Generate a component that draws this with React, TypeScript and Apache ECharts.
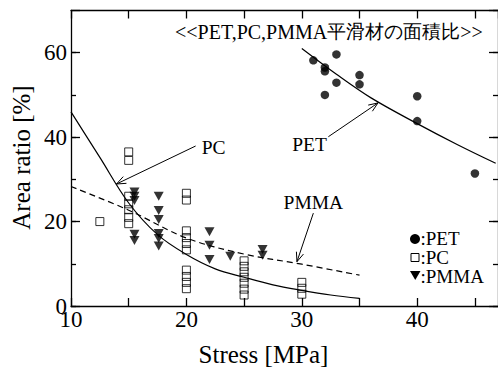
import { useEffect, useRef } from "react";
import * as echarts from "echarts";

const FONT = "Liberation Serif, Times New Roman, Times, DejaVu Serif, serif";

// Area ratio [%] measured at each stress [MPa]
const petPoints: number[][] = [
  [31, 58.2], [33, 59.6], [32, 56.5], [32, 55.6], [33, 52.9], [32, 50.0],
  [35, 54.7], [35, 52.5], [40, 49.7], [40, 43.8], [45, 31.4],
];
const pcPoints: number[][] = [
  [12.5, 20.0],
  [15, 36.5], [15, 34.5], [15, 26.0], [15, 24.2], [15, 22.8], [15, 21.0], [15, 19.5],
  [20, 26.7], [20, 25.1], [20, 17.8], [20, 16.2], [20, 14.8], [20, 13.3],
  [20, 8.5], [20, 7.0], [20, 5.6], [20, 4.1],
  [25, 10.7], [25, 9.4], [25, 8.1], [25, 6.8], [25, 5.4], [25, 4.0], [25, 2.6],
  [30, 5.6], [30, 4.2], [30, 2.8],
];
const pmmaPoints: number[][] = [
  [15.5, 27.0], [15.5, 26.0], [15.5, 25.0], [15.5, 17.0], [15.5, 15.5],
  [17.6, 26.0], [17.6, 22.6], [17.6, 20.5], [17.6, 17.2], [17.6, 16.0], [17.6, 14.2],
  [22, 17.6], [22, 14.4], [22, 11.0],
  [23.8, 11.8],
  [26.6, 13.4], [26.6, 12.0],
];

// Trend curves
const petFit: number[][] = [
  [30, 61], [33, 54.9], [36, 49.3], [40, 43.2], [43.5, 38.2], [46.8, 33.8],
];
const pcFit: number[][] = [
  [10, 46], [12.5, 35.2], [15, 24.4], [17.5, 16.9], [20, 12.2], [22.5, 8.8], [25, 6.8],
  [27.5, 5.0], [30, 3.7], [32.5, 2.6], [35, 1.8],
];
const pmmaFit: number[][] = [
  [10, 28.3], [15, 22.7], [20, 16.1], [25, 12.3], [30, 9.9], [35, 7.3],
];

const xTickLabels = [10, 20, 30, 40];
const yTickLabels = [0, 20, 40, 60];

const titleLatin = "<<PET,PC,PMMA";
const titleCjk = "平滑材の面積比";
const titleEnd = ">>";
const xTitle = "Stress [MPa]";
const yTitle = "Area ratio [%]";
const legendLabels = [":PET", ":PC", ":PMMA"];

// Callouts: label, arrow start and arrow tip in data space
const callouts = [
  { name: "PC", from: [20.8, 37.9], to: [13.94, 28.9], dx: 6, dy: 1.5, align: "left" },
  { name: "PET", from: [32.3, 40.1], to: [36.6, 48.1], dx: -1.5, dy: 7.5, align: "right" },
  { name: "PMMA", from: [31.0, 22.0], to: [29.58, 10.5], dx: 0, dy: -10.5, align: "center" },
];

const BLACK = "#000";

function textEl(x: number, y: number, text: string, size: number, align = "left", extra: any = {}) {
  return {
    type: "text",
    x,
    y,
    ...extra,
    style: {
      text,
      font: `${size}px ${FONT}`,
      fontSize: size,
      fontFamily: FONT,
      fill: BLACK,
      align,
      textAlign: align,
      verticalAlign: "middle",
      textVerticalAlign: "middle",
    },
  };
}

export default function App() {
  const ref = useRef<HTMLDivElement>(null);

  useEffect(() => {
    if (!ref.current) return;
    const chart = echarts.init(ref.current, undefined, { renderer: "svg" });

    const lineStyle = { color: BLACK, width: 1.3 };
    const xAxisBase = {
      type: "value",
      min: 10,
      max: 47,
      interval: 5,
      axisLine: { show: true, onZero: false, lineStyle },
      axisTick: { show: true, inside: true, length: 8, lineStyle },
      splitLine: { show: false },
    };
    const yAxisBase = (position: string, interval: number, len: number, showLine: boolean) => ({
      type: "value",
      position,
      min: 0,
      max: 70,
      interval,
      axisLine: { show: showLine, onZero: false, lineStyle },
      axisTick: { show: true, inside: true, length: len, lineStyle },
      axisLabel: { show: false },
      splitLine: { show: false },
    });

    const yMinorLeft: any = yAxisBase("left", 10, 5, true);
    yMinorLeft.axisLabel = {
      show: true,
      margin: 4,
      fontSize: 23,
      color: BLACK,
      fontFamily: FONT,
      showMaxLabel: false,
      formatter: (v: number) => (yTickLabels.includes(v) ? String(v) : ""),
    };

    const curve = (data: number[][], dashed: boolean) => ({
      type: "line",
      data,
      smooth: 0.35,
      showSymbol: false,
      lineStyle: { color: BLACK, width: 1.2, type: dashed ? [6, 4] : "solid" },
      z: 1,
    });

    chart.setOption({
      animation: false,
      backgroundColor: "#fff",
      textStyle: { fontFamily: FONT },
      grid: { left: 71, top: 10.5, width: 429.6, height: 295.5, containLabel: false },
      xAxis: [
        {
          ...xAxisBase,
          position: "bottom",
          axisLabel: {
            show: true,
            margin: 2,
            fontSize: 23,
            color: BLACK,
            fontFamily: FONT,
            showMaxLabel: false,
            formatter: (v: number) => (xTickLabels.includes(v) ? String(v) : ""),
          },
        },
        { ...xAxisBase, position: "top", axisLabel: { show: false } },
      ],
      yAxis: [
        yMinorLeft,
        yAxisBase("right", 10, 5, true),
        yAxisBase("left", 20, 9, false),
        yAxisBase("right", 20, 9, false),
      ],
      series: [
        curve(pcFit, false),
        curve(pmmaFit, true),
        curve(petFit, false),
        {
          name: "PET",
          type: "scatter",
          data: petPoints,
          symbol: "circle",
          symbolSize: 8.5,
          itemStyle: { color: BLACK },
          z: 3,
        },
        {
          name: "PC",
          type: "scatter",
          data: pcPoints,
          symbol: "rect",
          symbolSize: 8,
          itemStyle: { color: "transparent", borderColor: BLACK, borderWidth: 1 },
          z: 3,
        },
        {
          name: "PMMA",
          type: "scatter",
          data: pmmaPoints,
          symbol: "triangle",
          symbolRotate: 180,
          symbolSize: [10, 9],
          itemStyle: { color: BLACK },
          z: 3,
        },
      ],
    });

    const toPx = (p: number[]) =>
      chart.convertToPixel({ xAxisIndex: 0, yAxisIndex: 0 }, p) as number[];

    const graphics: any[] = [];

    // Title
    graphics.push({
      type: "text",
      x: 175,
      y: 31.5,
      style: {
        text: `{a|${titleLatin}}{b|${titleCjk}}{a|${titleEnd}}`,
        fill: BLACK,
        fontFamily: FONT,
        verticalAlign: "middle",
        textVerticalAlign: "middle",
        rich: {
          a: { fontSize: 20, fontFamily: FONT, fill: BLACK, color: BLACK },
          b: { fontSize: 18.5, fontFamily: FONT, fill: BLACK, color: BLACK },
        },
      },
    });

    // Axis titles
    graphics.push(textEl(263.5, 354, xTitle, 25, "center"));
    graphics.push(textEl(21, 157.5, yTitle, 25, "center", { rotation: Math.PI / 2 }));

    // Legend
    const legendRows = [238, 257, 276];
    graphics.push({ type: "circle", shape: { cx: 415, cy: legendRows[0] + 1, r: 5 }, style: { fill: BLACK } });
    graphics.push({
      type: "rect",
      shape: { x: 411, y: legendRows[1] - 3.5, width: 8, height: 8 },
      style: { fill: "none", stroke: BLACK, lineWidth: 1 },
    });
    graphics.push({
      type: "polygon",
      shape: {
        points: [
          [410, legendRows[2] - 5],
          [420.5, legendRows[2] - 5],
          [415.25, legendRows[2] + 4],
        ],
      },
      style: { fill: BLACK },
    });
    legendLabels.forEach((label, i) => graphics.push(textEl(420.5, legendRows[i], label, 19, "left")));

    // Callout arrows and their labels
    callouts.forEach((c) => {
      const a = toPx(c.from);
      const b = toPx(c.to);
      graphics.push({
        type: "line",
        shape: { x1: a[0], y1: a[1], x2: b[0], y2: b[1] },
        style: { stroke: BLACK, lineWidth: 1 },
      });
      const ang = Math.atan2(b[1] - a[1], b[0] - a[0]);
      const L = 10;
      const spread = 0.38;
      const p1 = [b[0] - L * Math.cos(ang - spread), b[1] - L * Math.sin(ang - spread)];
      const p2 = [b[0] - L * Math.cos(ang + spread), b[1] - L * Math.sin(ang + spread)];
      graphics.push({
        type: "polyline",
        shape: { points: [p1, b, p2] },
        style: { stroke: BLACK, lineWidth: 1, fill: "none" },
      });
      graphics.push(textEl(a[0] + c.dx, a[1] + c.dy, c.name, 19.5, c.align));
    });

    chart.setOption({ graphic: graphics });

    return () => chart.dispose();
  }, []);

  return (
    <div
      ref={ref}
      style={{ position: "fixed", left: 0, top: 0, width: 498, height: 367, background: "#fff" }}
    />
  );
}
